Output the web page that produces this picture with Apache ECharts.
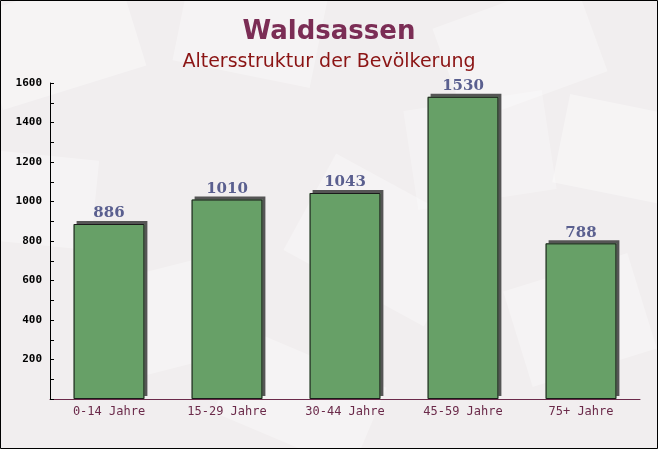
<!DOCTYPE html>
<html>
<head>
<meta charset="utf-8">
<script src="https://cdn.jsdelivr.net/npm/echarts@6/dist/echarts.min.js"></script>
<style>
html,body{margin:0;padding:0;background:#f1eeef;}
#c{width:658px;height:449px;}
</style>
</head>
<body>
<div id="c"></div>
<script>
const categories = ['0-14 Jahre', '15-29 Jahre', '30-44 Jahre', '45-59 Jahre', '75+ Jahre'];
const values = [886, 1010, 1043, 1530, 788];
const titleText = 'Waldsassen';
const subtitleText = 'Altersstruktur der Bevölkerung';

const chart = echarts.init(document.getElementById('c'), null, {renderer: 'canvas'});

function env(x, y, w, h, rot, op) {
  return {
    type: 'rect', x: x, y: y, rotation: rot, silent: true, z: -10,
    shape: {x: -w / 2, y: -h / 2, width: w, height: h},
    style: {fill: 'rgba(255,255,255,' + op + ')'}
  };
}

chart.setOption({
  backgroundColor: '#f1eeef',
  title: {
    text: titleText,
    subtext: subtitleText,
    left: 'center',
    top: 14,
    itemGap: 8,
    textStyle: {fontFamily: 'DejaVu Sans', fontWeight: 'bold', fontSize: 26, color: '#7b2d55'},
    subtextStyle: {fontFamily: 'DejaVu Sans', fontSize: 19, color: '#8b1414'}
  },
  graphic: [
    env(60, 40, 150, 100, 0.3, 0.35),
    env(250, 30, 140, 90, -0.2, 0.3),
    env(520, 50, 150, 100, 0.35, 0.3),
    env(620, 150, 120, 90, -0.2, 0.35),
    env(160, 320, 140, 100, 0.25, 0.3),
    env(380, 240, 160, 110, -0.5, 0.3),
    env(580, 320, 130, 100, 0.3, 0.3),
    env(40, 200, 110, 90, -0.1, 0.3),
    env(300, 400, 150, 90, -0.4, 0.3),
    env(480, 150, 140, 100, 0.15, 0.25),
    {
      type: 'rect', silent: true, z: 100,
      shape: {x: 0.5, y: 0.5, width: 657, height: 448},
      style: {fill: 'none', stroke: '#000', lineWidth: 1}
    }
  ],
  grid: {left: 50, right: 18, top: 83, bottom: 50, containLabel: false},
  xAxis: {
    type: 'category',
    data: categories,
    axisLine: {lineStyle: {color: '#6b2a4a', width: 1}},
    axisTick: {inside: true, length: 4, lineStyle: {color: '#6b2a4a'}},
    axisLabel: {fontFamily: 'DejaVu Sans Mono', fontSize: 12, color: '#6b2a4a', margin: 7}
  },
  yAxis: {
    type: 'value',
    min: 0, max: 1600, interval: 200,
    axisLine: {show: true, lineStyle: {color: '#000', width: 1}},
    axisTick: {show: true, inside: true, length: 4, lineStyle: {color: '#000'}},
    minorTick: {show: true, splitNumber: 2, length: 4, lineStyle: {color: '#000'}},
    splitLine: {show: false},
    axisLabel: {
      fontFamily: 'DejaVu Sans Mono', fontWeight: 'bold', fontSize: 11, color: '#000', margin: 8,
      formatter: function (v) { return v === 0 ? '' : String(v); }
    }
  },
  series: [{
    type: 'bar',
    data: values,
    barWidth: '60%',
    itemStyle: {
      color: '#67a067',
      shadowColor: '#555555',
      shadowBlur: 0,
      shadowOffsetX: 3,
      shadowOffsetY: -3
    },
    label: {
      show: true,
      position: 'top',
      distance: 3,
      fontFamily: 'DejaVu Serif',
      fontWeight: 'bold',
      fontSize: 15,
      color: '#5a5f8f'
    },
    emphasis: {disabled: true},
    silent: true
  }, {
    type: 'bar',
    data: values,
    barWidth: '60%',
    barGap: '-100%',
    itemStyle: {
      color: 'rgba(0,0,0,0)',
      borderColor: '#1a1a1a',
      borderWidth: 1
    },
    emphasis: {disabled: true},
    silent: true,
    z: 3
  }],
  animation: false
});
</script>
</body>
</html>
